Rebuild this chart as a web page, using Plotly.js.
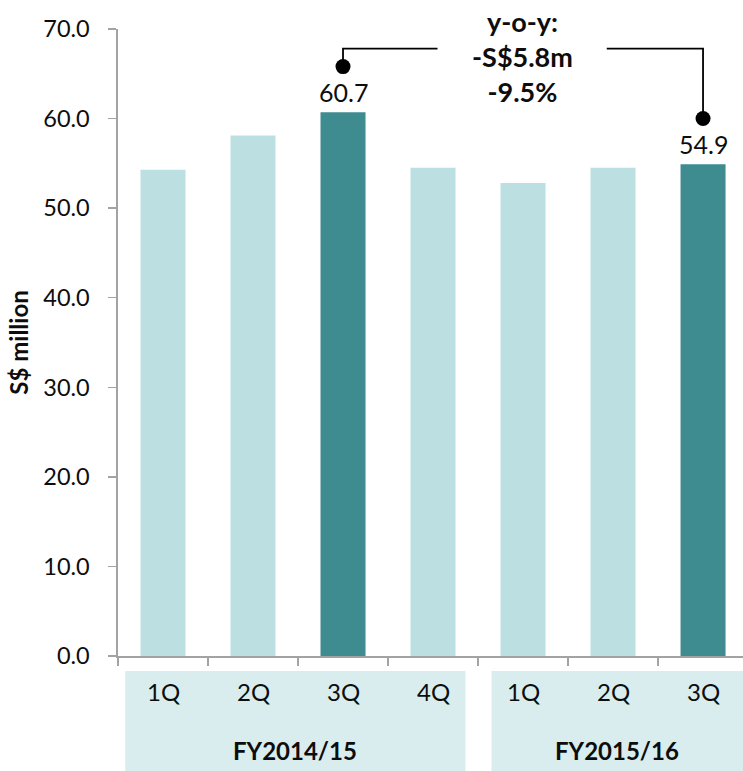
<!DOCTYPE html>
<html>
<head>
<meta charset="utf-8">
<script src="https://cdn.plot.ly/plotly-3.0.1.min.js"></script>
<style>
  html, body { margin: 0; padding: 0; background: #ffffff; }
  #chart { width: 743px; height: 771px; }
</style>
</head>
<body>
<div id="chart"></div>
<script>
// Quarterly figures, S$ million
const quarters = ['1Q', '2Q', '3Q', '4Q', '1Q', '2Q', '3Q'];
const fiscalYears = ['FY2014/15', 'FY2014/15', 'FY2014/15', 'FY2014/15', 'FY2015/16', 'FY2015/16', 'FY2015/16'];
const revenue = [54.3, 58.1, 60.7, 54.5, 52.8, 54.5, 54.9];
const yTicks = [0, 10, 20, 30, 40, 50, 60, 70];
const yoyText = ['y-o-y:', '-S$5.8m', '-9.5%'];

// the two quarters compared year on year
const compareFrom = 2;
const compareTo = 6;

const FONT = 'Lato, "Open Sans", sans-serif';
const LIGHT = '#bcdfe2';
const DARK = '#3e8b90';
const BOX = '#daedee';
const AXIS = '#a3a3a3';
const INK = '#0d0d0d';

const xPos = quarters.map((_, i) => i);
const barColors = xPos.map(i => (i === compareFrom || i === compareTo) ? DARK : LIGHT);

const bars = {
  type: 'bar',
  x: xPos,
  y: revenue,
  width: 0.5,
  marker: { color: barColors, line: { width: 0 } },
  hoverinfo: 'skip',
  showlegend: false
};

// bracket end dots sit a fixed distance above the compared bars
const dotLift = 5.1;
const dots = {
  type: 'scatter',
  mode: 'markers',
  x: [compareFrom, compareTo],
  y: [revenue[compareFrom] + dotLift, revenue[compareTo] + dotLift],
  marker: { color: '#000000', size: 15 },
  hoverinfo: 'skip',
  showlegend: false,
  cliponaxis: false
};

const bracketY = Math.max(...revenue) + 7.1;
const gapL = 3.05, gapR = 4.93;

const shapes = [
  // year group boxes under the axis
  { type: 'rect', xref: 'x', yref: 'paper', x0: -0.42, x1: 3.36, y0: -0.184, y1: -0.024,
    fillcolor: BOX, line: { width: 0 }, layer: 'below' },
  { type: 'rect', xref: 'x', yref: 'paper', x0: 3.65, x1: 6.6, y0: -0.184, y1: -0.024,
    fillcolor: BOX, line: { width: 0 }, layer: 'below' },
  // y-o-y bracket, left and right halves around the text
  { type: 'path', xref: 'x', yref: 'y',
    path: `M ${compareFrom} ${revenue[compareFrom] + dotLift} L ${compareFrom} ${bracketY} L ${gapL} ${bracketY}`,
    line: { color: '#000000', width: 1.8 } },
  { type: 'path', xref: 'x', yref: 'y',
    path: `M ${gapR} ${bracketY} L ${compareTo} ${bracketY} L ${compareTo} ${revenue[compareTo] + dotLift}`,
    line: { color: '#000000', width: 1.8 } }
];

const annotations = [];

// value labels over the compared bars
[compareFrom, compareTo].forEach(i => {
  annotations.push({
    x: i, y: revenue[i], xref: 'x', yref: 'y',
    text: revenue[i].toFixed(1), showarrow: false,
    yanchor: 'bottom', yshift: 3,
    font: { family: FONT, size: 25, color: INK }
  });
});

// y-o-y change text
annotations.push({
  x: (gapL + gapR) / 2, y: bracketY - 0.9, xref: 'x', yref: 'y',
  text: yoyText.join('<br>'), showarrow: false,
  xanchor: 'center', yanchor: 'middle', align: 'center',
  font: { family: FONT, size: 27, color: INK, weight: 'bold' }
});

// quarter labels
quarters.forEach((q, i) => {
  annotations.push({
    x: i, y: -0.0574, xref: 'x', yref: 'paper',
    text: q, showarrow: false, yanchor: 'middle',
    font: { family: FONT, size: 24, color: INK }
  });
});

// fiscal year labels, centred on their boxes
const groupCentres = { 'FY2014/15': (-0.42 + 3.36) / 2, 'FY2015/16': (3.65 + 6.444) / 2 };
[...new Set(fiscalYears)].forEach(fy => {
  annotations.push({
    x: groupCentres[fy], y: -0.151, xref: 'x', yref: 'paper',
    text: fy, showarrow: false, yanchor: 'middle',
    font: { family: FONT, size: 24, color: INK, weight: 'bold' }
  });
});

const layout = {
  width: 743,
  height: 771,
  margin: { l: 118, r: 0, t: 29, b: 115 },
  paper_bgcolor: '#ffffff',
  plot_bgcolor: '#ffffff',
  font: { family: FONT, color: INK },
  xaxis: {
    range: [-0.5, 6.444],
    showgrid: false,
    zeroline: false,
    showline: true,
    linecolor: AXIS,
    linewidth: 1.6,
    ticks: 'outside',
    ticklen: 8,
    tickwidth: 1.4,
    tickcolor: AXIS,
    tickmode: 'array',
    tickvals: xPos.slice(0, -1).map(i => i - 0.5).concat([xPos.length - 1.5]),
    showticklabels: false,
    fixedrange: true
  },
  yaxis: {
    range: [0, 70],
    showgrid: false,
    zeroline: false,
    showline: true,
    linecolor: AXIS,
    linewidth: 1.6,
    ticks: 'outside',
    ticklen: 8,
    tickwidth: 1.4,
    tickcolor: AXIS,
    tickmode: 'array',
    tickvals: yTicks,
    ticktext: yTicks.map(v => v.toFixed(1)),
    ticklabelstandoff: 14,
    tickfont: { family: FONT, size: 23.5, color: INK },
    title: {
      text: 'S$ million',
      standoff: 8,
      font: { family: FONT, size: 24, color: INK, weight: 'bold' }
    },
    fixedrange: true
  },
  shapes: shapes,
  annotations: annotations,
  bargap: 0.5,
  showlegend: false
};

Plotly.newPlot('chart', [bars, dots], layout, { displayModeBar: false, staticPlot: true });
</script>
</body>
</html>
